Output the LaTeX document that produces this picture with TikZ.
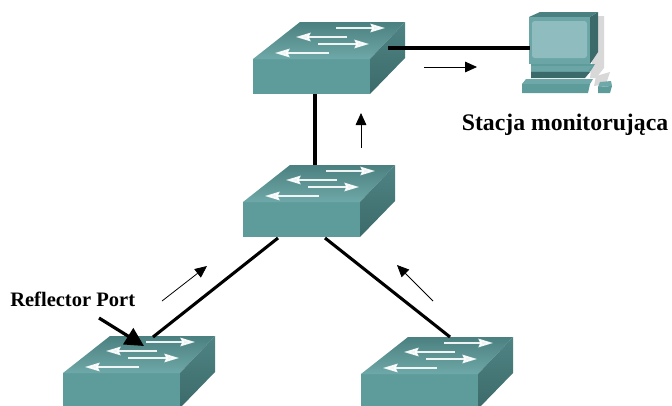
\documentclass[tikz,border=0pt]{standalone}
\usepackage{fontspec}
\setmainfont{Liberation Serif}
\usetikzlibrary{arrows.meta}
\definecolor{swfront}{HTML}{5E9C9C}
\definecolor{swtopa}{HTML}{4B8080}
\definecolor{swtopb}{HTML}{6FA8A8}
\definecolor{swsidea}{HTML}{4F8484}
\definecolor{swsideb}{HTML}{3C6A6A}
\definecolor{scr}{HTML}{8FBDBF}
\definecolor{pcfront}{HTML}{6BA5A5}
\definecolor{shadowc}{HTML}{D8D8D8}
\tikzset{
  x=0.75pt,y=-0.75pt,
  link/.style={line width=2.3pt,black},
  flow/.style={line width=0.6pt,black,-{Triangle[length=9pt,width=8pt]}},
  lbl/.style={inner sep=0pt,text=black},
  wa/.style={white,line width=1.2pt,opacity=.9,-{Stealth[length=11pt,width=6.5pt,inset=1.5pt]}},
  pics/switch/.style={code={
    \fill[swfront] (0,0) rectangle (117,35);
    \shade[top color=swtopa,bottom color=swtopb] (0,0) -- (117,0) -- (152,-37) -- (47,-37) -- cycle;
    \shade[left color=swsidea,right color=swsideb,shading angle=0] (117,0) -- (152,-37) -- (152,-1) -- (117,35) -- cycle;
    \draw[wa] (76,-6) -- (22,-6);
    \draw[wa] (65,-15) -- (116,-15);
    \draw[wa] (94,-22) -- (43,-22);
    \draw[wa] (83,-31) -- (132,-31);
    \coordinate (-s) at (62,35);
    \coordinate (-e) at (135,-11);
  }}
}
\begin{document}
\begin{tikzpicture}
\useasboundingbox (0,0) rectangle (672,405);
\begin{scope}
\clip (0,0) rectangle (672,405);
\pic (top) at (253,59) {switch};
\pic (mid) at (243,202) {switch};
\pic (bl) at (63,373) {switch};
\pic (br) at (361,374) {switch};
\end{scope}
% monitor
\fill[shadowc] (598,16) -- (604,16) -- (604,68) -- (596,78) -- (590,78) -- cycle;
\fill[shadowc] (596,76) -- (610,72) -- (606,84) -- (594,86) -- cycle;
\fill[swsideb] (590,17) -- (598,12) -- (598,52) -- (590,64) -- cycle;
\fill[swtopa] (529,17) -- (540,12) -- (598,12) -- (590,17) -- cycle;
\fill[pcfront] (529,17) rectangle (590,64);
\fill[scr,rounded corners=2pt] (532,21) rectangle (587,58);
\fill[swfront] (531,64) -- (595,64) -- (590,72) -- (531,72) -- cycle;
\fill[pcfront] (531,66) -- (592,66) -- (588,71) -- (531,71) -- cycle;
\fill[swsideb] (531,72) -- (590,72) -- (585,78) -- (531,78) -- cycle;
\fill[swtopb] (526,79) -- (593,79) -- (590,84) -- (522,84) -- cycle;
\fill[swfront] (522,84) -- (590,84) -- (588,93) -- (522,93) -- cycle;
\fill[swtopb] (600,82) -- (611,81) -- (612,86) -- (598,87) -- cycle;
\fill[swfront] (598,87) -- (612,86) -- (610,93) -- (598,93) -- cycle;
\coordinate (pc) at (530,48);
% links
\draw[link] (top-e) -- (pc);
\draw[link] (top-s) -- (315,165) coordinate (midn);
\draw[link] (278,238) coordinate (mida) -- (153,337) coordinate (bln);
\draw[link] (325,238) coordinate (midb) -- (450,337) coordinate (brn);
% flows
\coordinate (fa1) at (424,67); \coordinate (fa2) at (477,67);
\coordinate (fb1) at (361,148); \coordinate (fb2) at (361,113);
\coordinate (fc1) at (162,301); \coordinate (fc2) at (207,266);
\coordinate (fd1) at (433,301); \coordinate (fd2) at (397,265);
\draw[flow] (fa1) -- (fa2);
\draw[flow] (fb1) -- (fb2);
\draw[flow] (fc1) -- (fc2);
\draw[flow] (fd1) -- (fd2);
\node[lbl,font=\bfseries\fontsize{17.8}{20}\selectfont,anchor=base] (st) at (565,130) {Stacja monitorująca};
\node[lbl,font=\bfseries\fontsize{15.4}{18}\selectfont,anchor=base west] (rp) at (10,306) {Reflector Port};
\coordinate (ra) at (99,318); \coordinate (rb) at (144,346);
\draw[line width=2.4pt,-{Triangle[length=14pt,width=14pt]}] (ra) -- (rb);
\end{tikzpicture}
\end{document}
